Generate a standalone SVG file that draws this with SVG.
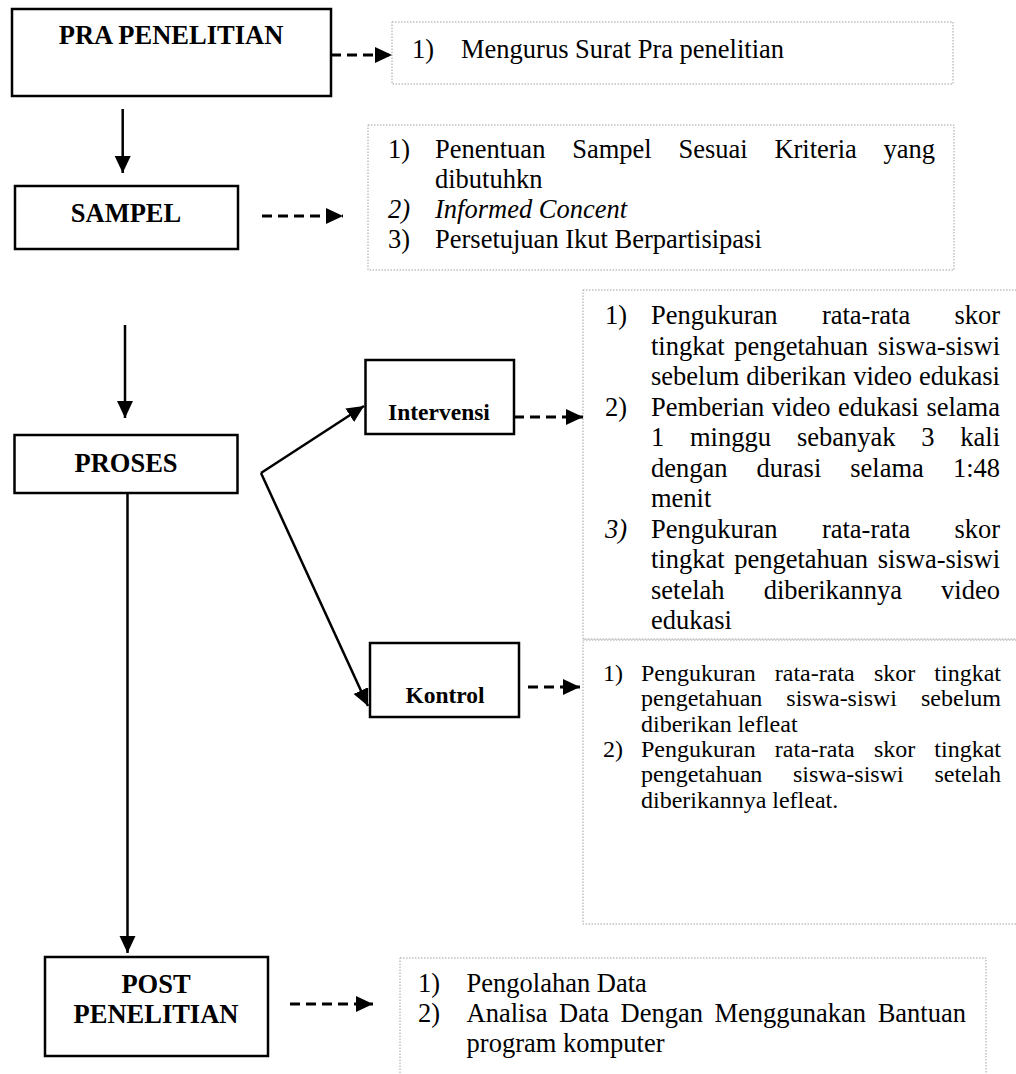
<svg xmlns="http://www.w3.org/2000/svg" width="1016" height="1074" viewBox="0 0 1016 1074">
<style>
  .node { fill: #fff; stroke: #000; stroke-width: 2.5; }
  .tbox { fill: none; stroke: #a0a0a0; stroke-width: 1; stroke-dasharray: 1.5 1.5; }
  .title { font-family: "Liberation Serif", "Times New Roman", serif; font-weight: bold; font-size: 26.5px; fill: #000; text-anchor: middle; }
  .small { font-size: 23.5px; }
  .body { font-family: "Liberation Serif", "Times New Roman", serif; font-size: 26.5px; fill: #000; }
  .body24 { font-family: "Liberation Serif", "Times New Roman", serif; font-size: 24px; fill: #000; }
  .it { font-style: italic; }
  .solid { fill: none; stroke: #000; stroke-width: 2.5; }
  .dash { fill: none; stroke: #000; stroke-width: 3; stroke-dasharray: 10 6; }
</style>
<defs>
  <marker id="ah" markerUnits="userSpaceOnUse" markerWidth="20" markerHeight="18" refX="17" refY="8" orient="auto">
    <path d="M0,0 L17,8 L0,16 Z" fill="#000"/>
  </marker>
</defs>
<rect width="1016" height="1074" fill="#fff"/>

<!-- text boxes -->
<g id="box-pra-text">
  <rect class="tbox" x="392" y="22" width="561" height="62"/>
  <text class="body" y="58"><tspan x="412">1)</tspan><tspan x="461">Mengurus Surat Pra penelitian</tspan></text>
</g>
<g id="box-sampel-text">
  <rect class="tbox" x="368" y="125" width="586" height="145"/>
  <text class="body" y="158"><tspan x="388">1)</tspan><tspan x="435">Penentuan</tspan><tspan x="572.2">Sampel</tspan><tspan x="678.4">Sesuai</tspan><tspan x="774.4">Kriteria</tspan><tspan x="883.5">yang</tspan></text>
  <text class="body" x="435" y="188">dibutuhkn</text>
  <text class="body it" y="218"><tspan x="388">2)</tspan><tspan x="435">Informed Concent</tspan></text>
  <text class="body" y="248"><tspan x="388">3)</tspan><tspan x="435">Persetujuan Ikut Berpartisipasi</tspan></text>
</g>
<g id="box-intervensi-text">
  <rect class="tbox" x="583" y="290" width="445" height="349"/>
  <text class="body" y="324"><tspan x="605">1)</tspan><tspan x="651">Pengukuran</tspan><tspan x="821.9">rata-rata</tspan><tspan x="954.4">skor</tspan></text>
  <text class="body" y="354.5"><tspan x="651">tingkat</tspan><tspan x="734.2">pengetahuan</tspan><tspan x="877.8">siswa-siswi</tspan></text>
  <text class="body" y="385"><tspan x="651">sebelum</tspan><tspan x="746.2">diberikan</tspan><tspan x="853.2">video</tspan><tspan x="919">edukasi</tspan></text>
  <text class="body" y="415.5"><tspan x="605">2)</tspan><tspan x="651">Pemberian</tspan><tspan x="771.7">video</tspan><tspan x="838">edukasi</tspan><tspan x="926.4">selama</tspan></text>
  <text class="body" y="446"><tspan x="651">1</tspan><tspan x="690">minggu</tspan><tspan x="796.9">sebanyak</tspan><tspan x="921.3">3</tspan><tspan x="960.3">kali</tspan></text>
  <text class="body" y="476.5"><tspan x="651">dengan</tspan><tspan x="756.5">durasi</tspan><tspan x="850.3">selama</tspan><tspan x="952.9">1:48</tspan></text>
  <text class="body" x="651" y="507">menit</text>
  <text class="body" y="537.5"><tspan x="605" font-style="italic">3)</tspan><tspan x="651">Pengukuran</tspan><tspan x="821.9">rata-rata</tspan><tspan x="954.4">skor</tspan></text>
  <text class="body" y="568"><tspan x="651">tingkat</tspan><tspan x="734.2">pengetahuan</tspan><tspan x="877.8">siswa-siswi</tspan></text>
  <text class="body" y="598.5"><tspan x="651">setelah</tspan><tspan x="763.7">diberikannya</tspan><tspan x="941.1">video</tspan></text>
  <text class="body" x="651" y="629">edukasi</text>
</g>
<g id="box-kontrol-text">
  <rect class="tbox" x="583" y="640" width="445" height="284"/>
  <text class="body24" y="681"><tspan x="603">1)</tspan><tspan x="641">Pengukuran</tspan><tspan x="774.8">rata-rata</tspan><tspan x="873.9">skor</tspan><tspan x="934.3">tingkat</tspan></text>
  <text class="body24" y="706.3"><tspan x="641">pengetahuan</tspan><tspan x="786.3">siswa-siswi</tspan><tspan x="921">sebelum</tspan></text>
  <text class="body24" x="641" y="731.6">diberikan lefleat</text>
  <text class="body24" y="757"><tspan x="603">2)</tspan><tspan x="641">Pengukuran</tspan><tspan x="774.8">rata-rata</tspan><tspan x="873.9">skor</tspan><tspan x="934.3">tingkat</tspan></text>
  <text class="body24" y="782"><tspan x="641">pengetahuan</tspan><tspan x="793">siswa-siswi</tspan><tspan x="934.4">setelah</tspan></text>
  <text class="body24" x="641" y="807.5">diberikannya lefleat.</text>
</g>
<g id="box-post-text">
  <rect class="tbox" x="400" y="958" width="586" height="130"/>
  <text class="body" y="992"><tspan x="418">1)</tspan><tspan x="466.6">Pengolahan Data</tspan></text>
  <text class="body" y="1022"><tspan x="418">2)</tspan><tspan x="466.6">Analisa</tspan><tspan x="559.1">Data</tspan><tspan x="620.6">Dengan</tspan><tspan x="714.5">Menggunakan</tspan><tspan x="877.7">Bantuan</tspan></text>
  <text class="body" x="466.6" y="1052">program komputer</text>
</g>

<!-- nodes -->
<g id="node-pra">
  <rect class="node" x="12" y="9" width="319" height="87"/>
  <text class="title" x="171" y="44">PRA PENELITIAN</text>
</g>
<g id="node-sampel">
  <rect class="node" x="15" y="186" width="223" height="63"/>
  <text class="title" x="126" y="222">SAMPEL</text>
</g>
<g id="node-proses">
  <rect class="node" x="14.5" y="435" width="223" height="58"/>
  <text class="title" x="126" y="472">PROSES</text>
</g>
<g id="node-intervensi">
  <rect class="node" x="365.5" y="360" width="148.5" height="74"/>
  <text class="title small" x="439" y="420">Intervensi</text>
</g>
<g id="node-kontrol">
  <rect class="node" x="370" y="643" width="149" height="74"/>
  <text class="title small" x="445" y="703">Kontrol</text>
</g>
<g id="node-post">
  <rect class="node" x="45" y="957" width="223" height="99"/>
  <text class="title" x="156" y="993">POST</text>
  <text class="title" x="156" y="1023">PENELITIAN</text>
</g>

<!-- connectors -->
<g id="connectors">
  <line class="solid" x1="122.7" y1="109" x2="122.7" y2="173" marker-end="url(#ah)"/>
  <line class="solid" x1="125" y1="325" x2="125" y2="418" marker-end="url(#ah)"/>
  <line class="solid" x1="127.5" y1="493" x2="127.5" y2="953" marker-end="url(#ah)"/>
  <polyline class="solid" points="261,473 364,406" marker-end="url(#ah)"/>
  <polyline class="solid" points="261,473 368,706" marker-end="url(#ah)"/>
  <line class="dash" x1="331" y1="55" x2="392" y2="55" marker-end="url(#ah)"/>
  <line class="dash" x1="262" y1="216" x2="343" y2="216" marker-end="url(#ah)"/>
  <line class="dash" x1="514" y1="417" x2="583" y2="417" marker-end="url(#ah)"/>
  <line class="dash" x1="528" y1="687" x2="580" y2="687" marker-end="url(#ah)"/>
  <line class="dash" x1="290" y1="1004" x2="373" y2="1004" marker-end="url(#ah)"/>
</g>
</svg>
